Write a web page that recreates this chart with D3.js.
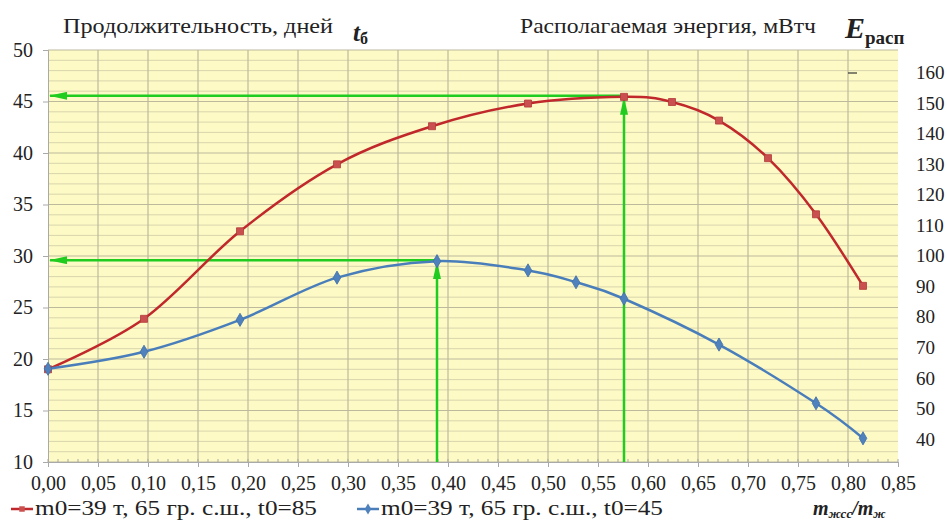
<!DOCTYPE html>
<html>
<head>
<meta charset="utf-8">
<script src="https://cdn.jsdelivr.net/npm/d3@7"></script>
<style>
    body { margin: 0; background: #fff; }
    #chart { width: 947px; height: 529px; }
</style>
</head>
<body>
<div id="chart"></div>
<script>
//Datos
const X_T85 = [0, 0.096, 0.192, 0.289, 0.384, 0.480, 0.576, 0.624, 0.671, 0.720, 0.768, 0.815];
const T_T85 = [19.0, 23.9, 32.4, 38.9, 42.6, 44.8, 45.45, 44.95, 43.15, 39.5, 34.05, 27.1];
const X_T45 = [0, 0.096, 0.192, 0.289, 0.389, 0.480, 0.528, 0.576, 0.671, 0.768, 0.815];
const T_T45 = [19.05, 20.7, 23.8, 27.9, 29.5, 28.6, 27.45, 25.85, 21.4, 15.7, 12.3];
const SERIES_NAMES = ['m0=39 т, 65 гр. с.ш., t0=85', 'm0=39 т, 65 гр. с.ш., t0=45'];
const PEAK_X = [0.576, 0.389];
const PEAK_Y = [45.45, 29.5];
const X_TICKS = d3.range(0, 0.851, 0.05);
const Y_TICKS = d3.range(10, 51, 5);
const E_TICKS = d3.range(40, 161, 10);

//Colores fijos
const COLOR_RED = '#c0282b',
COLOR_RED_MK = '#c9504f',
COLOR_BLUE = '#4a7ebb',
COLOR_BLUE_MK = '#4f81bd',
COLOR_GREEN = '#1fcc1f';
const SERIF = 'Liberation Serif';

let margin = {top: 50, right: 49, bottom: 67, left: 48},
    width = 947 - margin.left - margin.right,
    height = 529 - margin.top - margin.bottom;

let root = d3.select('#chart')
    .append('svg')
      .attr('width', 947)
      .attr('height', 529);

let svg = root.append('g')
      .attr('transform', 'translate(' + margin.left + ',' + margin.top + ')');

let x = d3.scaleLinear().domain([0, 0.85]).range([0, width]);
let y = d3.scaleLinear().domain([10, 50]).range([height, 0]);
let yE = d3.scaleLinear().domain([40, 160]).range([439 - margin.top, 72.5 - margin.top]);

//Fondo
svg.append('rect')
    .attr('x', 0).attr('y', 0)
    .attr('width', width).attr('height', height)
    .attr('fill', '#fdfac6');

//Rejilla menor horizontal
svg.append('g').selectAll('line')
    .data(d3.range(10, 51, 1).filter(function(d) { return d % 5 != 0; }))
    .enter().append('line')
    .attr('x1', 0).attr('x2', width)
    .attr('y1', function(d) { return y(d); }).attr('y2', function(d) { return y(d); })
    .attr('stroke', '#d9d5ad').attr('stroke-width', 1);

//Rejilla mayor
svg.append('g').selectAll('line')
    .data(Y_TICKS)
    .enter().append('line')
    .attr('x1', 0).attr('x2', width)
    .attr('y1', function(d) { return y(d); }).attr('y2', function(d) { return y(d); })
    .attr('stroke', '#bdb99d').attr('stroke-width', 1.2);

svg.append('g').selectAll('line')
    .data(X_TICKS.slice(1, -1))
    .enter().append('line')
    .attr('y1', 0).attr('y2', height)
    .attr('x1', function(d) { return x(d); }).attr('x2', function(d) { return x(d); })
    .attr('stroke', '#bdb99d').attr('stroke-width', 1.2);

//Ejes
let fmt = function(d) { return d3.format('.2f')(d).replace('.', ','); };

let xAxis = function(g) {
    g.call(d3.axisBottom(x).tickValues(X_TICKS).tickFormat(fmt).tickSize(5).tickPadding(9));
    g.select('.domain').attr('stroke', '#a9a9a9');
    g.selectAll('.tick line').attr('stroke', '#a9a9a9');
    g.selectAll('text').style('font-size', '20px').style('font-family', SERIF).attr('fill', '#222');
};
svg.append('g')
    .attr('transform', 'translate(0,' + height + ')')
    .call(xAxis);

//Marcas menores del eje X
svg.append('g').selectAll('line')
    .data(d3.range(0, 0.851, 0.01))
    .enter().append('line')
    .attr('x1', function(d) { return x(d); }).attr('x2', function(d) { return x(d); })
    .attr('y1', height).attr('y2', height - 3)
    .attr('stroke', '#a9a9a9');

let yAxis = function(g) {
    g.call(d3.axisLeft(y).tickValues(Y_TICKS).tickSize(5).tickPadding(10));
    g.select('.domain').attr('stroke', '#a9a9a9');
    g.selectAll('.tick line').attr('stroke', '#a9a9a9');
    g.selectAll('text').style('font-size', '20px').style('font-family', SERIF).attr('fill', '#222');
};
svg.append('g').call(yAxis);

let eAxis = function(g) {
    g.call(d3.axisRight(yE).tickValues(E_TICKS).tickSize(0).tickPadding(0));
    g.select('.domain').remove();
    g.selectAll('text').style('font-size', '19px').style('font-family', SERIF).attr('fill', '#222');
};
svg.append('g')
    .attr('transform', 'translate(' + (916 - margin.left) + ',0)')
    .call(eAxis);

//Pequeña marca junto a 160
svg.append('line')
    .attr('x1', 848 - margin.left).attr('x2', 857 - margin.left)
    .attr('y1', 73 - margin.top).attr('y2', 73 - margin.top)
    .attr('stroke', '#333').attr('stroke-width', 1.2);

//Flechas verdes
let defs = root.append('defs');
defs.append('marker')
    .attr('id', 'arrow')
    .attr('viewBox', '0 0 18 8')
    .attr('refX', 17).attr('refY', 4)
    .attr('markerWidth', 18).attr('markerHeight', 8)
    .attr('markerUnits', 'userSpaceOnUse')
    .attr('orient', 'auto')
  .append('path')
    .attr('d', 'M0,0 L18,4 L0,8 Z')
    .attr('fill', COLOR_GREEN);

let arrows = svg.append('g');
PEAK_X.forEach(function(px, i) {
    arrows.append('line')
        .attr('x1', x(px)).attr('x2', x(px))
        .attr('y1', height).attr('y2', y(PEAK_Y[i]) + 1)
        .attr('stroke', COLOR_GREEN).attr('stroke-width', 2.5)
        .attr('marker-end', 'url(#arrow)');
    arrows.append('line')
        .attr('x1', x(px)).attr('x2', 2)
        .attr('y1', y(PEAK_Y[i]) - 1).attr('y2', y(PEAK_Y[i]) - 1)
        .attr('stroke', COLOR_GREEN).attr('stroke-width', 2.5)
        .attr('marker-end', 'url(#arrow)');
});

//Series
let line = d3.line()
    .x(function(d) { return x(d[0]); })
    .y(function(d) { return y(d[1]); })
    .curve(d3.curveCardinal.tension(0));

let dataRed = X_T85.map(function(d, i) { return [d, T_T85[i]]; });
let dataBlue = X_T45.map(function(d, i) { return [d, T_T45[i]]; });

svg.append('path')
    .datum(dataRed)
    .attr('d', line)
    .attr('fill', 'none').attr('stroke', COLOR_RED).attr('stroke-width', 2.5);

svg.append('path')
    .datum(dataBlue)
    .attr('d', line)
    .attr('fill', 'none').attr('stroke', COLOR_BLUE).attr('stroke-width', 2.5);

let square = d3.symbol().type(d3.symbolSquare).size(49);
let diamond = d3.symbol().type(d3.symbolDiamond).size(50);

svg.append('g').selectAll('path')
    .data(dataRed)
    .enter().append('path')
    .attr('d', square)
    .attr('transform', function(d) { return 'translate(' + x(d[0]) + ',' + y(d[1]) + ')'; })
    .attr('fill', COLOR_RED_MK).attr('stroke', '#b33a3a').attr('stroke-width', 0.8);

svg.append('g').selectAll('path')
    .data(dataBlue)
    .enter().append('path')
    .attr('d', diamond)
    .attr('transform', function(d) { return 'translate(' + x(d[0]) + ',' + y(d[1]) + ')'; })
    .attr('fill', COLOR_BLUE_MK).attr('stroke', '#3f6fa8').attr('stroke-width', 0.8);

//Títulos
let titles = root.append('g');
titles.append('text')
    .attr('x', 63).attr('y', 33)
    .attr('textLength', 270).attr('lengthAdjust', 'spacingAndGlyphs')
    .style('font-family', SERIF).style('font-size', '22px').attr('fill', '#222')
    .text('Продолжительность, дней');

let tb = titles.append('text')
    .attr('x', 353).attr('y', 41)
    .style('font-family', SERIF).style('font-weight', 'bold').style('font-style', 'italic').attr('fill', '#222');
tb.append('tspan').style('font-size', '25px').text('t');
tb.append('tspan').attr('dy', 3).style('font-size', '16px').style('font-style', 'normal').text('б');

titles.append('text')
    .attr('x', 520).attr('y', 33)
    .attr('textLength', 296).attr('lengthAdjust', 'spacingAndGlyphs')
    .style('font-family', SERIF).style('font-size', '22px').attr('fill', '#222')
    .text('Располагаемая энергия, мВтч');

let ep = titles.append('text')
    .attr('x', 845).attr('y', 38)
    .style('font-family', SERIF).style('font-weight', 'bold').attr('fill', '#222');
ep.append('tspan').style('font-size', '30px').style('font-style', 'italic').text('E');
ep.append('tspan').attr('dy', 6).style('font-size', '19px').text('расп');

//Leyenda
let legend = root.append('g');
let legX = [11, 357];
legX.forEach(function(lx, i) {
    legend.append('line')
        .attr('x1', lx).attr('x2', lx + 22)
        .attr('y1', 509).attr('y2', 509)
        .attr('stroke', i == 0 ? COLOR_RED : COLOR_BLUE).attr('stroke-width', 2.5);
    legend.append('path')
        .attr('d', i == 0 ? d3.symbol().type(d3.symbolSquare).size(30) : d3.symbol().type(d3.symbolDiamond).size(36))
        .attr('transform', 'translate(' + (lx + 11) + ',509)')
        .attr('fill', i == 0 ? COLOR_RED_MK : COLOR_BLUE_MK);
    legend.append('text')
        .attr('x', lx + 24).attr('y', 515)
        .attr('textLength', 282).attr('lengthAdjust', 'spacingAndGlyphs')
        .style('font-family', SERIF).style('font-size', '20px').attr('fill', '#222')
        .text(SERIES_NAMES[i]);
});

let mr = legend.append('text')
    .attr('x', 813).attr('y', 515)
    .style('font-family', SERIF).style('font-weight', 'bold').style('font-style', 'italic').attr('fill', '#222');
mr.append('tspan').style('font-size', '20px').text('m');
mr.append('tspan').attr('dy', 3).style('font-size', '13px').text('жсс');
mr.append('tspan').attr('dy', -3).style('font-size', '20px').text('/m');
mr.append('tspan').attr('dy', 3).style('font-size', '13px').text('ж');
</script>
</body>
</html>
